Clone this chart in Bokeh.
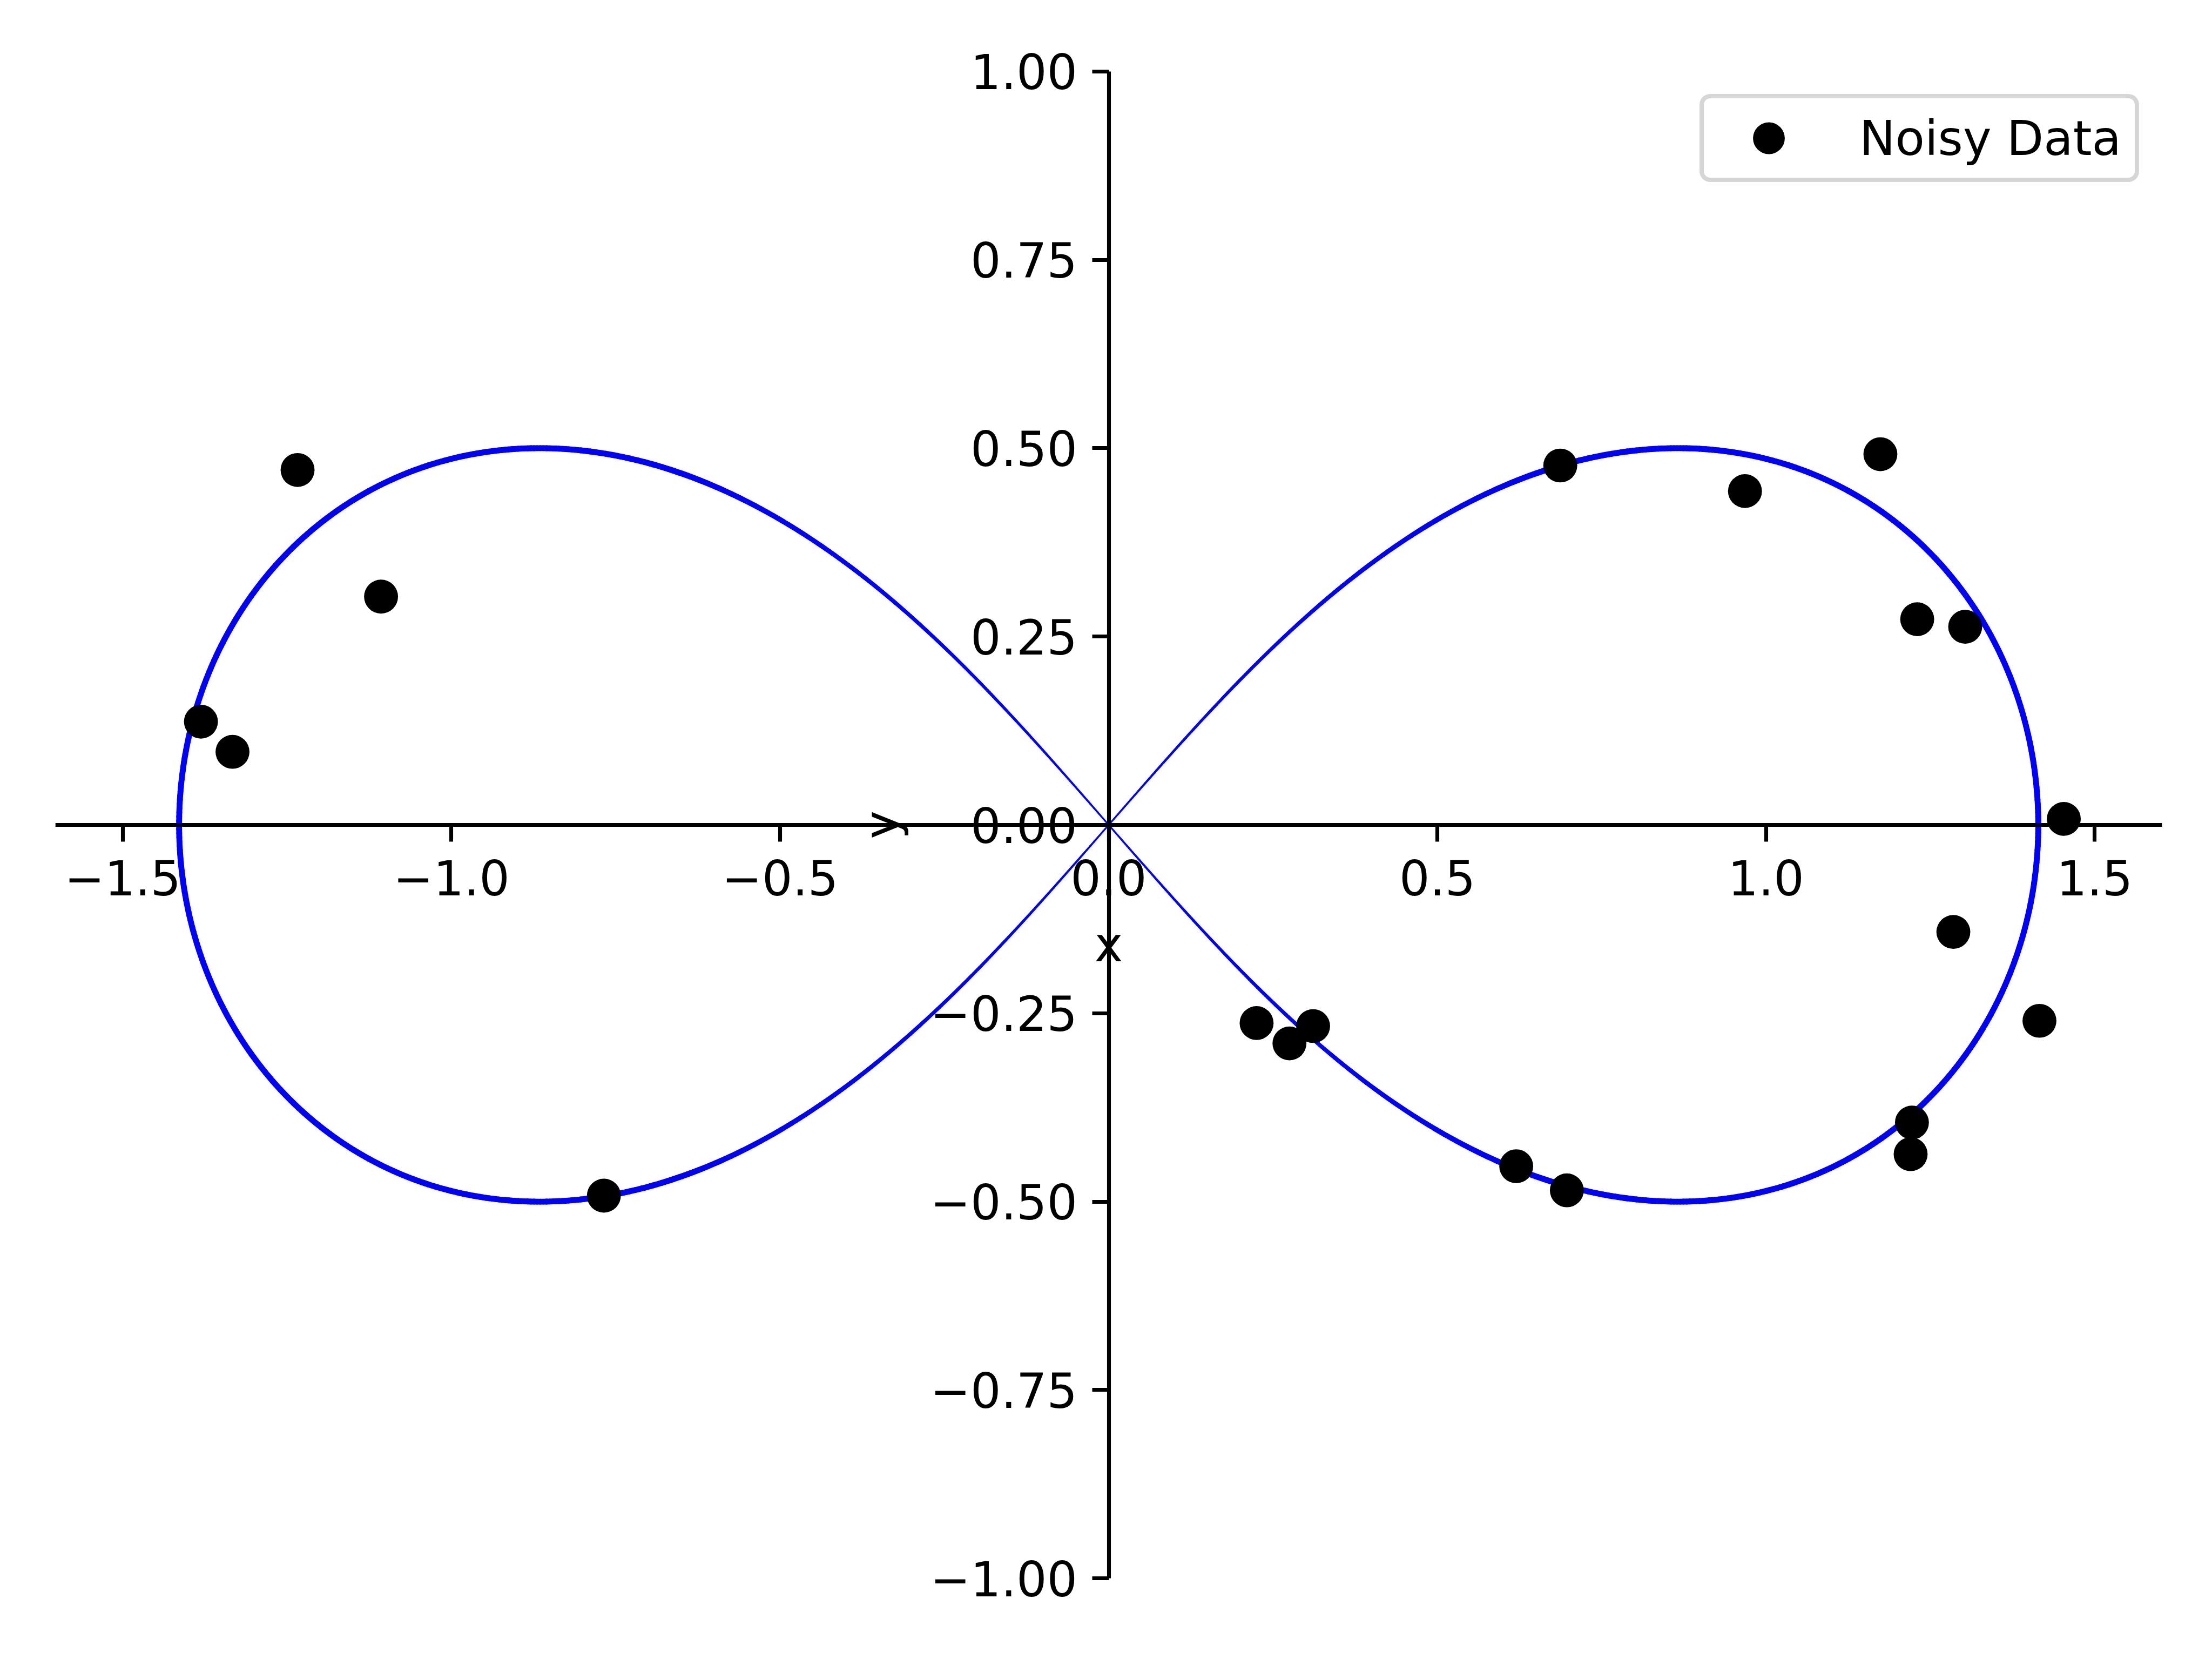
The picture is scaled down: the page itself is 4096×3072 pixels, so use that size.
import numpy as np
from bokeh.plotting import figure
from bokeh.models import Range1d, LinearAxis, FixedTicker, Legend, LegendItem, ColumnDataSource
from bokeh.embed import file_html
from bokeh.resources import INLINE

# ---------------- data ----------------
x_noisy = [-1.381, -1.333, -1.234, -1.107, -0.768, 0.225, 0.275, 0.311, 0.620, 0.697,
           0.687, 0.968, 1.174, 1.230, 1.303, 1.453, 1.285, 1.416, 1.222, 1.220]
y_noisy = [0.137, 0.097, 0.471, 0.303, -0.492, -0.263, -0.290, -0.267, -0.453, -0.485,
           0.477, 0.443, 0.492, 0.273, 0.263, 0.008, -0.142, -0.260, -0.395, -0.437]
series_label = "Noisy Data"

x_ticks = [-1.5, -1.0, -0.5, 0.0, 0.5, 1.0, 1.5]
x_tick_labels = ["\u22121.5", "\u22121.0", "\u22120.5", "0.0", "0.5", "1.0", "1.5"]
y_ticks = [-1.0, -0.75, -0.5, -0.25, 0.0, 0.25, 0.5, 0.75, 1.0]
y_tick_labels = ["\u22121.00", "\u22120.75", "\u22120.50", "\u22120.25", "0.00",
                 "0.25", "0.50", "0.75", "1.00"]
x_limits = [-1.6025, 1.6025]
y_limits = [-1.0, 1.0]
x_label = "x"
y_label = "y"

# lemniscate of Bernoulli (the plotted curve), parameter a = 1
lemniscate_a = 1.0
t = np.linspace(0.0, 2.0 * np.pi, 1601)
curve_x = lemniscate_a * np.sqrt(2.0) * np.cos(t) / (1.0 + np.sin(t) ** 2)
curve_y = curve_x * np.sin(t)

# ---------------- style ----------------
S = 0.64
PT = 1000.0 / 72.0 * S          # px per point at this scale
FONT = "DejaVu Sans"
FS = f"{10 * PT:.1f}px"
LW = 0.8 * PT
Y_PAD = 0.05                    # extra room so the end tick labels are not clipped

# curve drawn as short pieces so its stroke can thicken away from the crossing
seg_xs = [[curve_x[i], curve_x[i + 1]] for i in range(len(t) - 1)]
seg_ys = [[curve_y[i], curve_y[i + 1]] for i in range(len(t) - 1)]
mid_r = np.hypot((curve_x[:-1] + curve_x[1:]) / 2, (curve_y[:-1] + curve_y[1:]) / 2)
seg_w = list(S * (5.0 + 12.0 * np.minimum(mid_r / 0.8, 1.0)))
curve_src = ColumnDataSource(dict(xs=seg_xs, ys=seg_ys, w=seg_w))

p = figure(width=4080, height=3056,
           x_range=Range1d(*x_limits),
           y_range=Range1d(y_limits[0] - Y_PAD, y_limits[1] + Y_PAD),
           x_axis_type=None, y_axis_type=None,
           output_backend="svg", toolbar_location=None,
           min_border_left=102, min_border_right=77,
           min_border_top=62, min_border_bottom=64)
p.outline_line_color = None
p.background_fill_color = "white"
p.border_fill_color = "white"


def style_axis(ax, standoff):
    ax.axis_line_width = LW
    ax.axis_line_color = "black"
    ax.major_tick_line_width = LW
    ax.major_tick_line_color = "black"
    ax.major_tick_out = int(round(3.5 * PT))
    ax.major_tick_in = 0
    ax.minor_tick_out = 0
    ax.minor_tick_in = 0
    ax.major_label_text_font = FONT
    ax.major_label_text_font_size = FS
    ax.major_label_text_color = "black"
    ax.major_label_standoff = standoff
    ax.axis_label_text_font = FONT
    ax.axis_label_text_font_size = FS
    ax.axis_label_text_font_style = "normal"
    ax.axis_label_text_color = "black"
    ax.axis_label_standoff = int(round(4 * PT))


xaxis = LinearAxis(fixed_location=0, ticker=FixedTicker(ticks=x_ticks),
                   major_label_overrides=dict(zip(x_ticks, x_tick_labels)),
                   axis_label=x_label, bounds=tuple(x_limits))
style_axis(xaxis, 33)
p.add_layout(xaxis, "below")

yaxis = LinearAxis(fixed_location=0, ticker=FixedTicker(ticks=y_ticks),
                   major_label_overrides=dict(zip(y_ticks, y_tick_labels)),
                   axis_label=y_label, bounds=tuple(y_limits))
style_axis(yaxis, 27)
p.add_layout(yaxis, "left")

p.multi_line(xs="xs", ys="ys", line_width="w", source=curve_src,
             line_color="#0000ff", line_cap="round", line_join="round")

pts = p.scatter(x_noisy, y_noisy, size=7.07 * PT, fill_color="black",
                line_color="black", line_width=0)

legend = Legend(items=[LegendItem(label=series_label, renderers=[pts])],
                location=(3045, 2655), margin=0,
                padding=0, spacing=0,
                glyph_width=240, glyph_height=147,
                label_standoff=48, label_width=510,
                label_text_font=FONT, label_text_font_size=FS,
                label_text_color="black",
                border_line_color="#cccccc", border_line_alpha=0.8,
                border_line_width=1.0 * PT,
                background_fill_color="white", background_fill_alpha=0.8)
if "border_radius" in Legend.properties():
    legend.border_radius = 20
p.add_layout(legend, "center")

open("out.html", "w").write(file_html(p, INLINE))
